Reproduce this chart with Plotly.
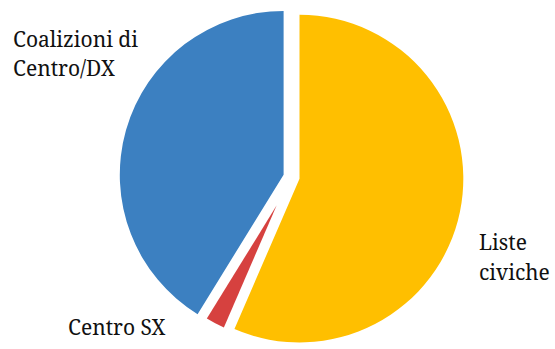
import plotly.graph_objects as go

# Data
labels = ["Liste civiche", "Centro SX", "Coalizioni di Centro/DX"]
values = [56.5, 2.3, 41.2]
colors = ["#FFBF00", "#D6413F", "#3C80C1"]

W, H = 555, 349

fig = go.Figure()

# main pie (yellow + blue); red handled by a second trace
fig.add_trace(go.Pie(
    labels=labels, values=values, sort=False, direction="clockwise", rotation=0,
    marker=dict(colors=[colors[0], "rgba(0,0,0,0)", colors[2]], line=dict(width=0)),
    pull=[0.05, 0.0, 0.05],
    textinfo="none", hoverinfo="label+percent", showlegend=False,
    domain=dict(x=[0.2009, 0.8495], y=[0.0, 0.98567]),
))

# red slice, pulled further out
fig.add_trace(go.Pie(
    labels=labels, values=values, sort=False, direction="clockwise", rotation=0,
    marker=dict(colors=["rgba(0,0,0,0)", colors[1], "rgba(0,0,0,0)"], line=dict(width=0)),
    pull=[0.0, 0.2406, 0.0],
    textinfo="none", hoverinfo="label+percent", showlegend=False,
    domain=dict(x=[0.2009, 0.8495], y=[0.02006, 0.96562]),
))

font = dict(family="Noto Serif", size=21, color="#111111")
label_lines = [
    ("Coalizioni di", 11, 39),
    ("Centro/DX", 11, 68),
    ("Liste", 477, 242),
    ("civiche", 477, 272),
    ("Centro SX", 66, 326.5),
]
for txt, px, py in label_lines:
    fig.add_annotation(text=txt, x=px / W, y=1 - py / H, xref="paper", yref="paper",
                       xanchor="left", yanchor="middle", showarrow=False, font=font)

fig.update_layout(
    width=W, height=H, margin=dict(l=0, r=0, t=0, b=0),
    paper_bgcolor="white", plot_bgcolor="white",
)
fig.write_html("out.html")
